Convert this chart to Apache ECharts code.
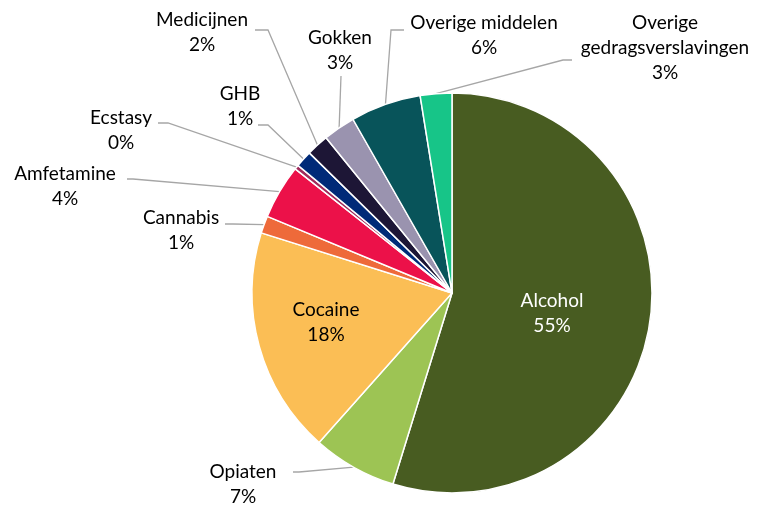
<!DOCTYPE html>
<html>
<head>
<meta charset="utf-8">
<script src="https://cdn.jsdelivr.net/npm/echarts@6/dist/echarts.min.js"></script>
<style>
html, body { margin: 0; padding: 0; background: #fff; }
#chart { width: 765px; height: 505px; }
</style>
</head>
<body>
<div id="chart"></div>
<script>
// categorieën, met de klok mee vanaf boven
var categories = ['Alcohol', 'Opiaten', 'Cocaine', 'Cannabis', 'Amfetamine', 'Ecstasy', 'GHB',
    'Medicijnen', 'Gokken', 'Overige middelen', 'Overige gedragsverslavingen'];
var shares = [54.8, 6.8, 18.3, 1.4, 4.4, 0.35, 1.35, 1.8, 2.6, 5.7, 2.55];
var colors = ['#485C21', '#9DC454', '#FBBE55', '#EE6A3A', '#EC1149', '#A12B5B', '#002A78',
    '#1D1636', '#9A93AF', '#08545A', '#17C588'];
var insideLabels = ['Alcohol', 'Cocaine'];

// positie van de labels en knik van de lijntjes
var labelSpots = {
    'Alcohol': { at: [552, 313] },
    'Cocaine': { at: [326, 322] },
    'Opiaten': { at: [243, 484], end: [293, 472], bend: [299, 472] },
    'Cannabis': { at: [181, 230], end: [225, 224], bend: [233, 224] },
    'Amfetamine': { at: [65, 186], end: [127, 179], bend: [133, 179] },
    'Ecstasy': { at: [121, 130], end: [158, 123], bend: [168, 123] },
    'GHB': { at: [240, 106], end: [258, 125], bend: [268, 125] },
    'Medicijnen': { at: [202, 32], end: [255, 30], bend: [268, 30] },
    'Gokken': { at: [340, 50], end: [341, 76], bend: [341, 76] },
    'Overige middelen': { at: [484, 35], end: [404, 30], bend: [391, 30] },
    'Overige gedragsverslavingen': { at: [665, 48], end: [572, 60], bend: [563, 60] }
};

var myChart = echarts.init(document.getElementById('chart'));

var data = categories.map(function (name, i) {
    var inside = insideLabels.indexOf(name) >= 0;
    return {
        name: name,
        value: shares[i],
        itemStyle: { color: colors[i] },
        label: inside ? { position: 'inside', color: name === 'Alcohol' ? '#fff' : '#000' } : { position: 'outside' },
        labelLine: { show: !inside }
    };
});

var option = {
    animation: false,
    series: [{
        type: 'pie',
        center: [452, 293],
        radius: 200,
        startAngle: 90,
        clockwise: true,
        avoidLabelOverlap: false,
        itemStyle: { borderColor: '#fff', borderWidth: 1.5 },
        label: {
            fontFamily: 'Lato',
            fontSize: 19,
            lineHeight: 25,
            color: '#000',
            align: 'center',
            formatter: function (p) {
                var name = p.name === 'Overige gedragsverslavingen' ? 'Overige\ngedragsverslavingen' : p.name;
                return name + '\n' + Math.round(p.percent) + '%';
            }
        },
        labelLine: {
            lineStyle: { color: '#A6A6A6', width: 1.3 }
        },
        labelLayout: function (params) {
            var spot = labelSpots[categories[params.dataIndex]];
            var res = { x: spot.at[0], y: spot.at[1], align: 'center', verticalAlign: 'middle' };
            if (spot.end && params.labelLinePoints) {
                res.labelLinePoints = [params.labelLinePoints[0], spot.bend, spot.end];
            }
            return res;
        },
        data: data
    }]
};

myChart.setOption(option);
</script>
</body>
</html>
